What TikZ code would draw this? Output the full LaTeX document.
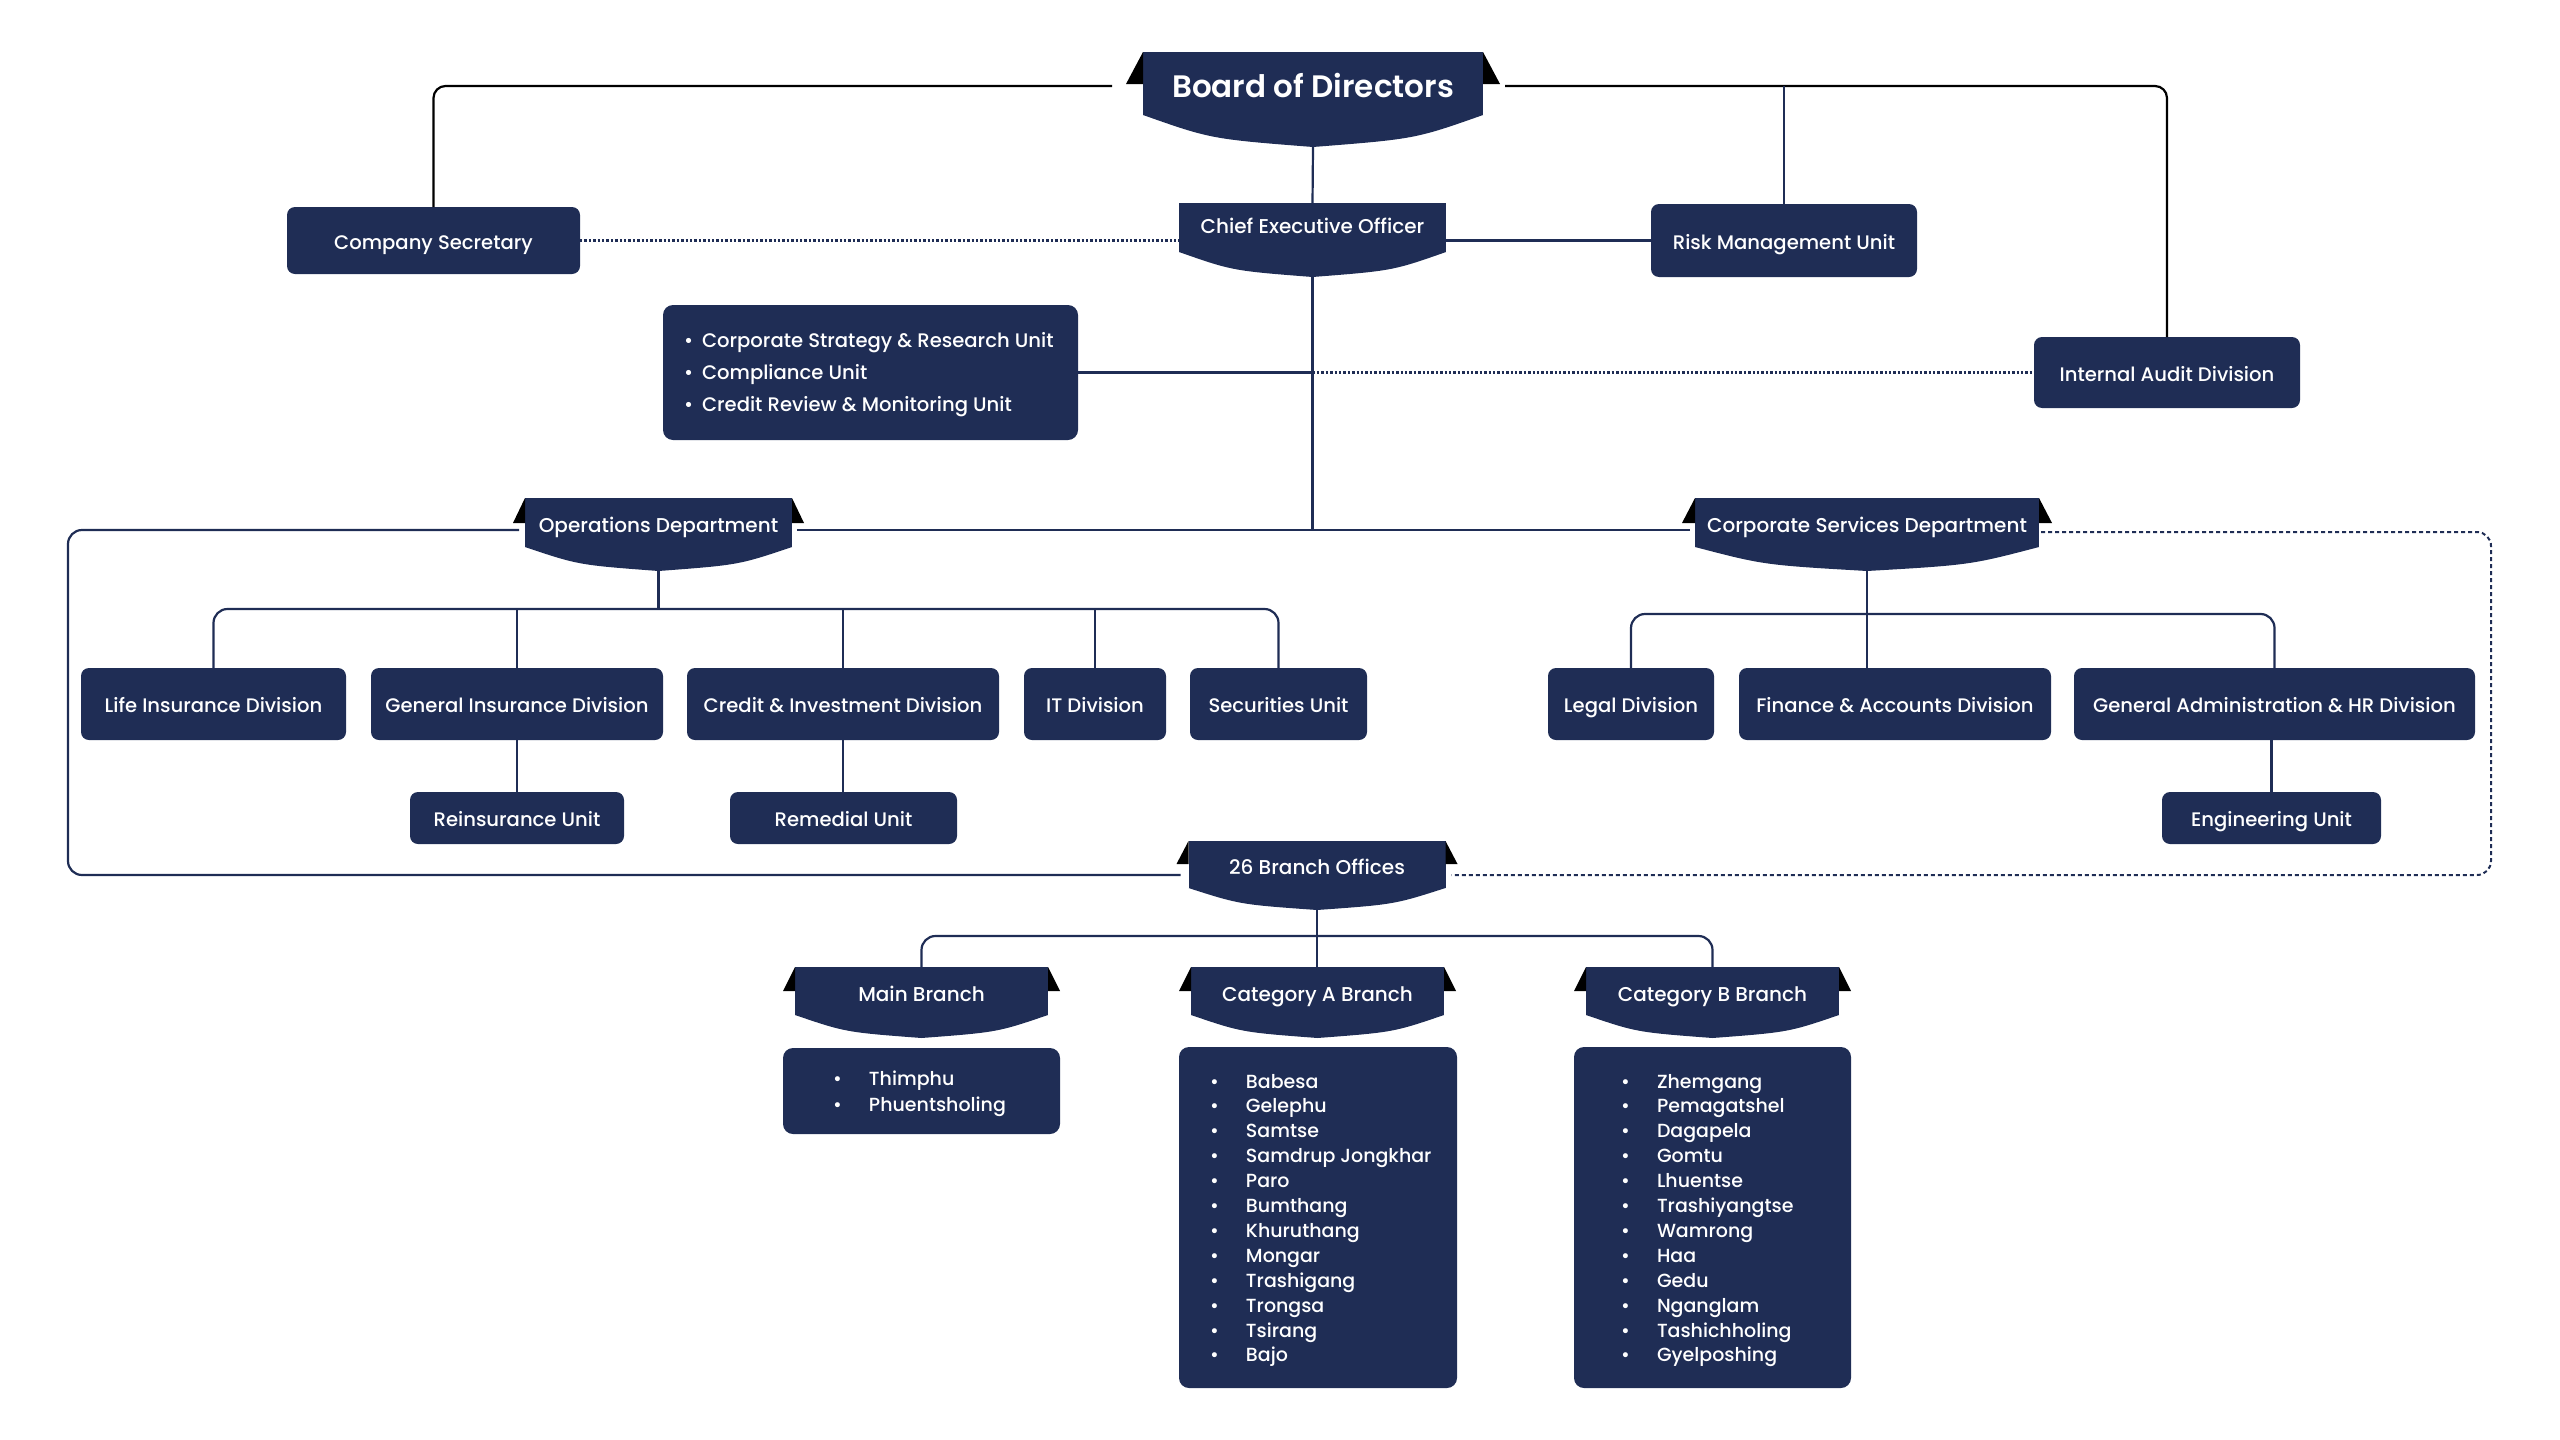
\documentclass[tikz,border=0pt]{standalone}
\usepackage{fontspec}
\setmainfont{Poppins}[UprightFont=* Medium, BoldFont=* SemiBold]
\usetikzlibrary{calc}
\definecolor{navy}{HTML}{1F2D55}

\newcommand\bannerbody[2]{%
  \fill[navy] (#1.south west) .. controls ($(#1.south west)!0.4!(#1.south)+(0,0.75*#2)$) .. ($(#1.south)+(0,#2)$) .. controls ($(#1.south east)!0.4!(#1.south)+(0,0.75*#2)$) .. (#1.south east) -- cycle;
  \coordinate (#1-b) at ($(#1.south)+(0,#2)$);}
\newcommand\bannerears[3]{%
  \fill[black] (#1.north west) -- ++(-#2,#3) -- ++(#2,0) -- cycle;
  \fill[black] (#1.north east) -- ++(#2,#3) -- ++(-#2,0) -- cycle;}

\tikzset{
  wh/.code 2 args={\pgfmathsetmacro\tmpw{#1*0.5}\pgfmathsetmacro\tmph{#2*0.5}\tikzset{minimum width=\tmpw pt, minimum height=\tmph pt}},
  box/.style={fill=navy, rounded corners=4pt, text=white, inner sep=0pt, outer sep=0pt, font=\fontsize{9.8}{12}\selectfont, text height=8.5pt, text depth=0pt},
  listbox/.style={fill=navy, rounded corners=5pt, inner sep=0pt, outer sep=0pt},
  listtxt/.style={text=white, inner sep=0pt, outer sep=0pt, anchor=west},
  banner/.style={fill=navy, text=white, inner sep=0pt, outer sep=0pt, font=\fontsize{10}{12}\selectfont, text height=10pt, text depth=0pt},
  conn/.style={draw=navy, line width=1.1pt},
  bconn/.style={draw=black, line width=1.1pt},
  dots/.style={conn, line width=1.2pt, dash pattern=on 1.2pt off 1pt},
  dashframe/.style={conn, line width=1pt, dash pattern=on 2pt off 1.5pt},
}

\begin{document}
\begin{tikzpicture}[x=0.5pt,y=-0.5pt]
\useasboundingbox (0,0) rectangle (2560,1440);

% ---------- banners ----------
\node[banner, wh={340}{63}, font=\fontsize{15.5}{18}\selectfont\bfseries, text height=14.4pt] (board) at (1313,83.5) {Board of Directors};
\bannerbody{board}{32}
\bannerears{board}{17}{32}

\node[banner, wh={267}{49}, text height=6pt] (ceo) at (1312.5,227.5) {Chief Executive Officer};
\bannerbody{ceo}{25}

\node[banner, wh={267}{49}] (ops) at (658.5,522.5) {Operations Department};
\bannerbody{ops}{24}
\bannerears{ops}{12}{25}

\node[banner, wh={344}{49}] (cs) at (1867,522.5) {Corporate Services Department};
\bannerbody{cs}{24}
\bannerears{cs}{13}{25}

\node[banner, wh={257}{47}] (b26) at (1317,864.5) {26 Branch Offices};
\bannerbody{b26}{22}
\bannerears{b26}{12}{23}

\node[banner, wh={253}{48}] (mainb) at (921.5,991) {Main Branch};
\bannerbody{mainb}{23}
\bannerears{mainb}{12}{24}

\node[banner, wh={253}{48}] (cata) at (1317.5,991) {Category A Branch};
\bannerbody{cata}{23}
\bannerears{cata}{12}{24}

\node[banner, wh={253}{48}] (catb) at (1712.5,991) {Category B Branch};
\bannerbody{catb}{23}
\bannerears{catb}{12}{24}

% ---------- boxes ----------
\node[box, wh={293}{67}] (comsec) at (433.5,240.5) {Company Secretary};
\node[box, wh={266}{73}] (risk) at (1784,240.5) {Risk Management Unit};
\node[box, wh={266}{71}] (audit) at (2167,372.5) {Internal Audit Division};
\node[listbox, wh={415}{135}] (strat) at (870.5,372.5) {};
\node[listtxt, font=\fontsize{9.8}{16}\selectfont] (stratt) at (684,373) {\begin{tabular}{@{}p{9pt}@{}l@{}}\textbullet & Corporate Strategy \& Research Unit\\ \textbullet & Compliance Unit\\ \textbullet & Credit Review \& Monitoring Unit\end{tabular}};

\node[box, wh={265}{72}] (life) at (213.5,704) {Life Insurance Division};
\node[box, wh={292}{72}] (genins) at (517,704) {General Insurance Division};
\node[box, wh={312}{72}] (credit) at (843,704) {Credit \& Investment Division};
\node[box, wh={142}{72}] (it) at (1095,704) {IT Division};
\node[box, wh={177}{72}] (sec) at (1278.5,704) {Securities Unit};
\node[box, wh={166}{72}] (legal) at (1631,704) {Legal Division};
\node[box, wh={312}{72}] (fin) at (1895,704) {Finance \& Accounts Division};
\node[box, wh={401}{72}] (gahr) at (2274.5,704) {General Administration \& HR Division};

\node[box, wh={214}{52}] (reins) at (517,818) {Reinsurance Unit};
\node[box, wh={227}{52}] (remed) at (843.5,818) {Remedial Unit};
\node[box, wh={219}{52}] (eng) at (2271.5,818) {Engineering Unit};

\node[listbox, wh={277}{86}] (mainl) at (921.5,1091) {};
\node[listtxt, font=\fontsize{9.5}{13}\selectfont] (mainlt) at (833,1093) {\begin{tabular}{@{}p{18pt}@{}l@{}}\textbullet & Thimphu\\ \textbullet & Phuentsholing\end{tabular}};

\node[listbox, wh={278}{341}] (alist) at (1318,1217.5) {};
\node[listtxt, font=\fontsize{9.5}{12.45}\selectfont] (alistt) at (1210,1220) {\begin{tabular}{@{}p{18pt}@{}l@{}}
\textbullet & Babesa\\ \textbullet & Gelephu\\ \textbullet & Samtse\\ \textbullet & Samdrup Jongkhar\\ \textbullet & Paro\\ \textbullet & Bumthang\\ \textbullet & Khuruthang\\ \textbullet & Mongar\\ \textbullet & Trashigang\\ \textbullet & Trongsa\\ \textbullet & Tsirang\\ \textbullet & Bajo\end{tabular}};

\node[listbox, wh={277}{341}] (blist) at (1712.5,1217.5) {};
\node[listtxt, font=\fontsize{9.5}{12.45}\selectfont] (blistt) at (1621,1220) {\begin{tabular}{@{}p{18pt}@{}l@{}}
\textbullet & Zhemgang\\ \textbullet & Pemagatshel\\ \textbullet & Dagapela\\ \textbullet & Gomtu\\ \textbullet & Lhuentse\\ \textbullet & Trashiyangtse\\ \textbullet & Wamrong\\ \textbullet & Haa\\ \textbullet & Gedu\\ \textbullet & Nganglam\\ \textbullet & Tashichholing\\ \textbullet & Gyelposhing\end{tabular}};

% ---------- helper coordinates ----------
\coordinate (board-l) at ($(board.north west)+(-31,34)$);
\coordinate (board-r) at ($(board.north east)+(22,34)$);
\coordinate (ops-l) at ($(ops.north west)+(-6,32)$);
\coordinate (ops-r) at ($(ops.north east)+(5,32)$);
\coordinate (cs-l) at ($(cs.north west)+(-5,32)$);
\coordinate (cs-r) at ($(cs.north east)+(2,34)$);
\coordinate (b26-l) at ($(b26.north west)+(-8,34)$);
\coordinate (b26-r) at ($(b26.north east)+(6,34)$);
\coordinate (opsbus) at ($(ops-b)+(0,38)$);
\coordinate (csbus) at ($(cs-b)+(0,43)$);
\coordinate (brbus) at ($(b26-b)+(0,26)$);

% ---------- connectors ----------
\draw[bconn, rounded corners=6pt] (board-l) -| (comsec.north);
\draw[bconn, rounded corners=6pt] (board-r) -| (audit.north);
\draw[conn] (risk.north) -- (risk.north |- board-r);
\draw[conn] (board-b) -- (ceo.north);
\draw[dots] (comsec.east) -- (comsec.east -| ceo.west);
\draw[conn] (risk.west) -- (risk.west -| ceo.east);
\draw[conn] (ceo-b) -- (ceo-b |- ops-r);
\draw[conn] (ops-r) -- (cs-l);
\draw[conn] (strat.east) -- (strat.east -| ceo-b);
\draw[dots] (strat.east -| ceo-b) -- (audit.west);

\draw[conn, rounded corners=7pt] (ops-l) -- (68,530) -- (68,875) -- (b26-l);
\draw[dashframe, rounded corners=7pt] (cs-r) -- (2491,532) -- (2491,875) -- (b26-r);

\draw[conn, rounded corners=7pt] (life.north) |- (opsbus) -| (sec.north);
\draw[conn] (ops-b) -- (opsbus);
\foreach \n in {genins,credit,it} \draw[conn] (\n.north) -- (\n.north |- opsbus);

\draw[conn, rounded corners=7pt] (legal.north) |- (csbus) -| (gahr.north);
\draw[conn] (cs-b) -- (cs-b |- fin.north);

\draw[conn] (genins.south) -- (reins.north);
\draw[conn] (credit.south) -- (credit.south |- remed.north);
\draw[conn] (gahr.south -| eng.north) -- (eng.north);

\draw[conn, rounded corners=7pt] (mainb.north) |- (brbus) -| (catb.north);
\draw[conn] (b26-b) -- (b26-b |- cata.north);
\end{tikzpicture}
\end{document}
